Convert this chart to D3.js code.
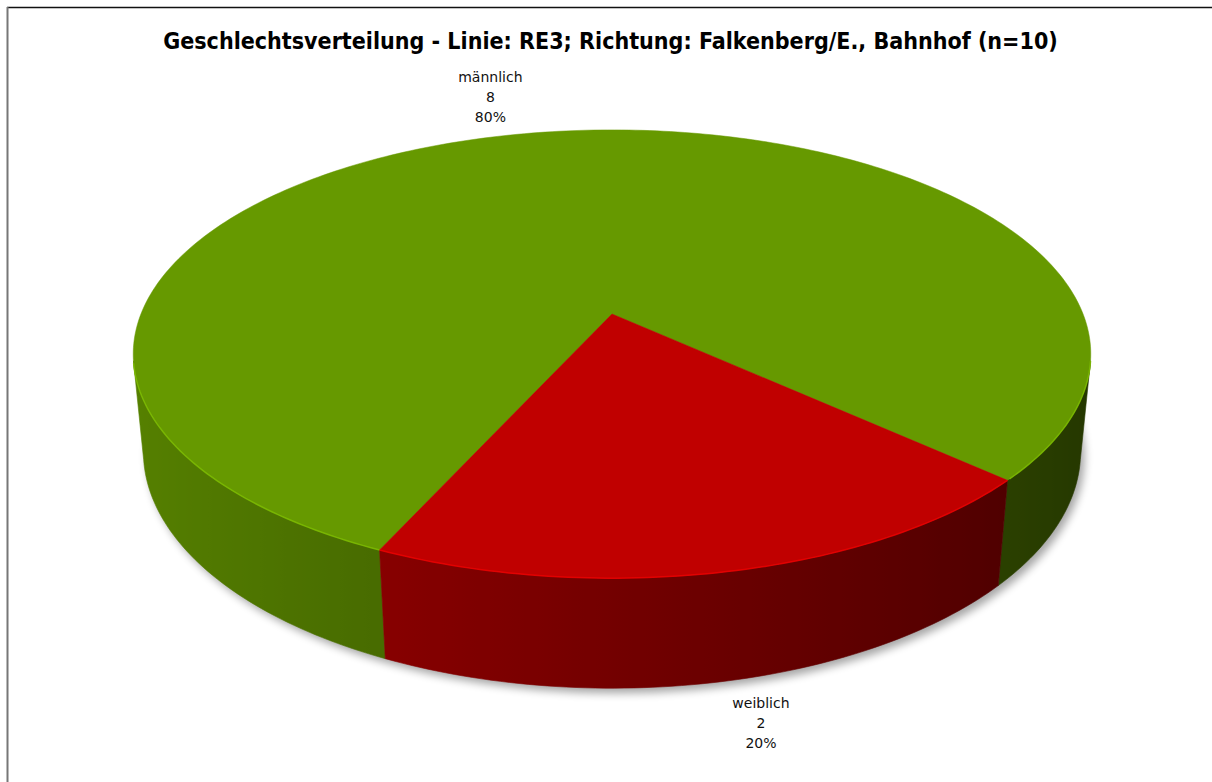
<!DOCTYPE html>
<html><head><meta charset="utf-8">
<script src="https://cdn.jsdelivr.net/npm/d3@7"></script>
<style>html,body{margin:0;padding:0;background:#fff;}</style>
</head><body>
<svg id="chart" width="1212" height="782"></svg>
<script>
// ---- data ----
const categories = ["männlich", "weiblich"];
const counts = [8, 2];
const percentLabels = ["80%", "20%"];
const titleText = "Geschlechtsverteilung - Linie: RE3; Richtung: Falkenberg/E., Bahnhof (n=10)";
const sliceColors = ["#669900", "#c00000"];

// ---- layout ----
const W = 1212, H = 782;
const cx = 612, cy = 314;          // projected pie centre
const D = 4.99, f = 2385;          // perspective distance / focal (radius = 1)
const fx = f * 0.9856;             // horizontal focal
const tilt = 27 * Math.PI / 180;
const cosA = Math.cos(tilt), sinA = Math.sin(tilt);
const thick = 0.2307;              // pie height relative to radius
const rotation = 204.4 * Math.PI / 180;
const visFrom = 12, visTo = 168;   // visible outer wall (degrees, phi)
const labelOffsets = [[-41, -31], [37, 47]];

const svg = d3.select("#chart");
const defs = svg.append("defs");

// frame
svg.append("rect").attr("width", W).attr("height", H).attr("fill", "#fff");
svg.append("line").attr("x1", 7).attr("y1", 7.5).attr("x2", W).attr("y2", 7.5)
  .attr("stroke", "#111").attr("stroke-width", 1.5);
svg.append("line").attr("x1", 7.5).attr("y1", 7).attr("x2", 7.5).attr("y2", H)
  .attr("stroke", "#777").attr("stroke-width", 2);

function proj(phi, y, r = 1) {
  const x = r * Math.cos(phi), z = r * Math.sin(phi);
  const sv = -y * cosA + z * sinA;
  const depth = D - (z * cosA + y * sinA);
  return [cx + fx * x / depth, cy + f * sv / depth];
}
const rad = d => d * Math.PI / 180, deg = r => r * 180 / Math.PI;

const pie = d3.pie().sort(null).startAngle(rotation).endAngle(rotation + 2 * Math.PI);
const arcs = pie(counts).map((d, i) => ({
  i, a: d.startAngle - Math.PI / 2, b: d.endAngle - Math.PI / 2, mid: (d.startAngle + d.endAngle) / 2 - Math.PI / 2
}));

// shadow
const blur = defs.append("filter").attr("id", "shadow").attr("x", "-10%").attr("y", "-10%").attr("width", "120%").attr("height", "130%");
blur.append("feGaussianBlur").attr("stdDeviation", 4);
const bottomRing = d3.range(0, 361, 2).map(t => proj(rad(t), -thick));
svg.append("path").attr("d", d3.line()(bottomRing) + "Z")
  .attr("transform", "translate(4,5)").attr("fill", "#000").attr("opacity", 0.35)
  .attr("filter", "url(#shadow)");

const shade = phi => 0.6 - 0.25 * Math.cos(phi);
function scaled(col, k) { const c = d3.rgb(col); return d3.rgb(c.r * k, c.g * k, c.b * k).formatHex(); }

// walls
let gid = 0;
arcs.forEach(s => {
  const A = deg(s.a), B = deg(s.b);
  for (let k = -1; k <= 2; k++) {
    const lo = Math.max(A + 360 * k, visFrom), hi = Math.min(B + 360 * k, visTo);
    if (hi <= lo) continue;
    const n = Math.max(4, Math.ceil((hi - lo) / 1));
    const phis = d3.range(n + 1).map(j => rad(lo + (hi - lo) * j / n));
    const top = phis.map(p => proj(p, 0));
    const bot = phis.map(p => proj(p, -thick)).reverse();
    const x1 = top[0][0], x2 = top[top.length - 1][0];
    const id = "wg" + (gid++);
    const g = defs.append("linearGradient").attr("id", id).attr("gradientUnits", "userSpaceOnUse")
      .attr("x1", x1).attr("y1", 0).attr("x2", x2).attr("y2", 0);
    phis.forEach((p, j) => {
      g.append("stop").attr("offset", (top[j][0] - x1) / (x2 - x1))
        .attr("stop-color", scaled(sliceColors[s.i], shade(p)));
    });
    svg.append("path").attr("d", d3.line()(top.concat(bot)) + "Z")
      .attr("fill", "url(#" + id + ")").attr("stroke", "url(#" + id + ")").attr("stroke-width", 0.6);
  }
});

// tops
arcs.forEach(s => {
  const n = Math.ceil(deg(s.b - s.a) / 1);
  const pts = d3.range(n + 1).map(j => proj(s.a + (s.b - s.a) * j / n, 0));
  svg.append("path").attr("d", d3.line()([[cx, cy]].concat(pts)) + "Z")
    .attr("fill", sliceColors[s.i]).attr("stroke", sliceColors[s.i]).attr("stroke-width", 0.5);
});
// rim highlight
arcs.forEach(s => {
  const A = deg(s.a), B = deg(s.b);
  for (let k = -1; k <= 2; k++) {
    const lo = Math.max(A + 360 * k, visFrom), hi = Math.min(B + 360 * k, visTo);
    if (hi <= lo) continue;
    const pts = d3.range(lo, hi + 0.001, 1).map(t => proj(rad(t), 0));
    svg.append("path").attr("d", d3.line()(pts)).attr("fill", "none")
      .attr("stroke", d3.color(sliceColors[s.i]).brighter(0.6)).attr("stroke-width", 1.5).attr("opacity", 0.8);
  }
});

// labels
arcs.forEach(s => {
  const front = Math.sin(s.mid) > 0;
  const p = proj(s.mid, front ? -thick : 0);
  const lx = p[0] + labelOffsets[s.i][0], ly = p[1] + labelOffsets[s.i][1];
  const t = svg.append("text").attr("text-anchor", "middle")
    .attr("font-family", "DejaVu Sans, Verdana, sans-serif").attr("font-size", 14).attr("fill", "#111");
  [categories[s.i], String(counts[s.i]), percentLabels[s.i]].forEach((line, j) => {
    t.append("tspan").attr("x", lx).attr("y", ly + (j - 1) * 20).text(line);
  });
});

// title
const title = svg.append("text").attr("x", 610.5).attr("y", 49).attr("text-anchor", "middle")
  .attr("font-family", "DejaVu Sans Condensed, DejaVu Sans, sans-serif").attr("font-weight", "bold")
  .attr("font-stretch", "condensed").attr("font-size", 22).attr("fill", "#000").text(titleText);
const tw = title.node().getComputedTextLength();
title.attr("font-size", 22 * 895 / tw);
</script>
</body></html>
